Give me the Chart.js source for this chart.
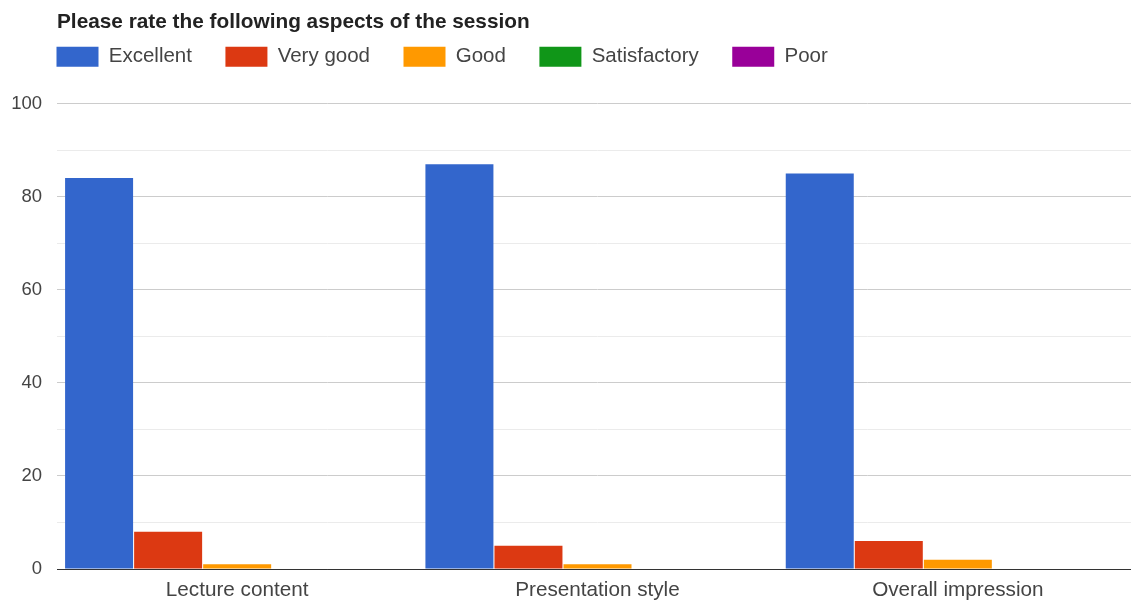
<!DOCTYPE html>
<html>
<head>
<meta charset="utf-8">
<script src="https://cdn.jsdelivr.net/npm/chart.js@4.4.1/dist/chart.umd.min.js"></script>
<style>
  html, body { margin: 0; padding: 0; background: #fff; overflow: hidden; width: 1131px; height: 601px; }
  #wrap { position: absolute; left: 0; top: 0; width: 1140px; height: 601px; }
</style>
</head>
<body>
<div id="wrap"><canvas id="rateChart" width="1140" height="601"></canvas></div>
<script>
// du lieu doc tu hinh
const categories = ['Lecture content', 'Presentation style', 'Overall impression'];
const seriesNames = ['Excellent', 'Very good', 'Good', 'Satisfactory', 'Poor'];
const excellent = [84, 87, 85];
const veryGood = [8, 5, 6];
const good = [1, 1, 2];
const satisfactory = [0, 0, 0];
const poor = [0, 0, 0];
const seriesColors = ['#3366cc', '#dc3912', '#ff9900', '#109618', '#990099'];
const yMax = 100;

const FONT = "'Liberation Sans', Arial, sans-serif";
const allValues = [excellent, veryGood, good, satisfactory, poor];

const datasets = seriesNames.map((name, i) => ({
    label: name,
    data: allValues[i],
    backgroundColor: seriesColors[i],
    borderWidth: 0,
    categoryPercentage: 0.958,
    barPercentage: 0.985
}));

// dich title + legend cho giong Google chart
const layoutFix = {
    id: 'layoutFix',
    beforeInit(chart) {
        const origFit = chart.legend.fit;
        chart.legend.fit = function () {
            origFit.bind(chart.legend)();
            this.height += 9;
        };
    },
    afterLayout(chart) {
        if (chart.titleBlock) chart.titleBlock.left = 57;
        if (chart.legend) {
            chart.legend.left = 57 - 34;
            chart.legend.top = 47 - 34;
        }
    }
};

new Chart(document.getElementById('rateChart').getContext('2d'), {
    type: 'bar',
    data: { labels: categories, datasets },
    plugins: [layoutFix],
    options: {
        responsive: false,
        animation: false,
        layout: { padding: { left: 0, right: 2, top: 0, bottom: 0 } },
        plugins: {
            tooltip: { enabled: false },
            title: {
                display: true,
                text: 'Please rate the following aspects of the session',
                align: 'start',
                color: '#222',
                font: { family: FONT, size: 20.8, weight: 'bold', lineHeight: 0.8 },
                padding: { top: 14, bottom: 0 }
            },
            legend: {
                display: true,
                align: 'start',
                labels: {
                    boxWidth: 42,
                    boxHeight: 20,
                    padding: 33.5,
                    color: '#444',
                    font: { family: FONT, size: 20.5 }
                }
            }
        },
        scales: {
            x: {
                z: 1,
                grid: { display: false, drawTicks: false },
                border: { display: true, color: '#333', width: 1 },
                ticks: { color: '#444', padding: 9, font: { family: FONT, size: 20.7 } },
                afterFit(scale) { scale.height = 32; }
            },
            y: {
                min: 0,
                max: yMax,
                border: { display: false },
                grid: {
                    drawTicks: false,
                    color: (ctx) => {
                        const v = ctx.tick ? ctx.tick.value : 0;
                        if (v === 0) return '#333';
                        return v % 20 === 0 ? '#cccccc' : '#ebebeb';
                    }
                },
                ticks: {
                    stepSize: 10,
                    padding: 15,
                    color: '#444',
                    font: { family: FONT, size: 18.5 },
                    callback: (v) => (v % 20 === 0 ? v : '')
                },
                afterFit(scale) { scale.width = 57; }
            }
        }
    }
});
</script>
</body>
</html>
